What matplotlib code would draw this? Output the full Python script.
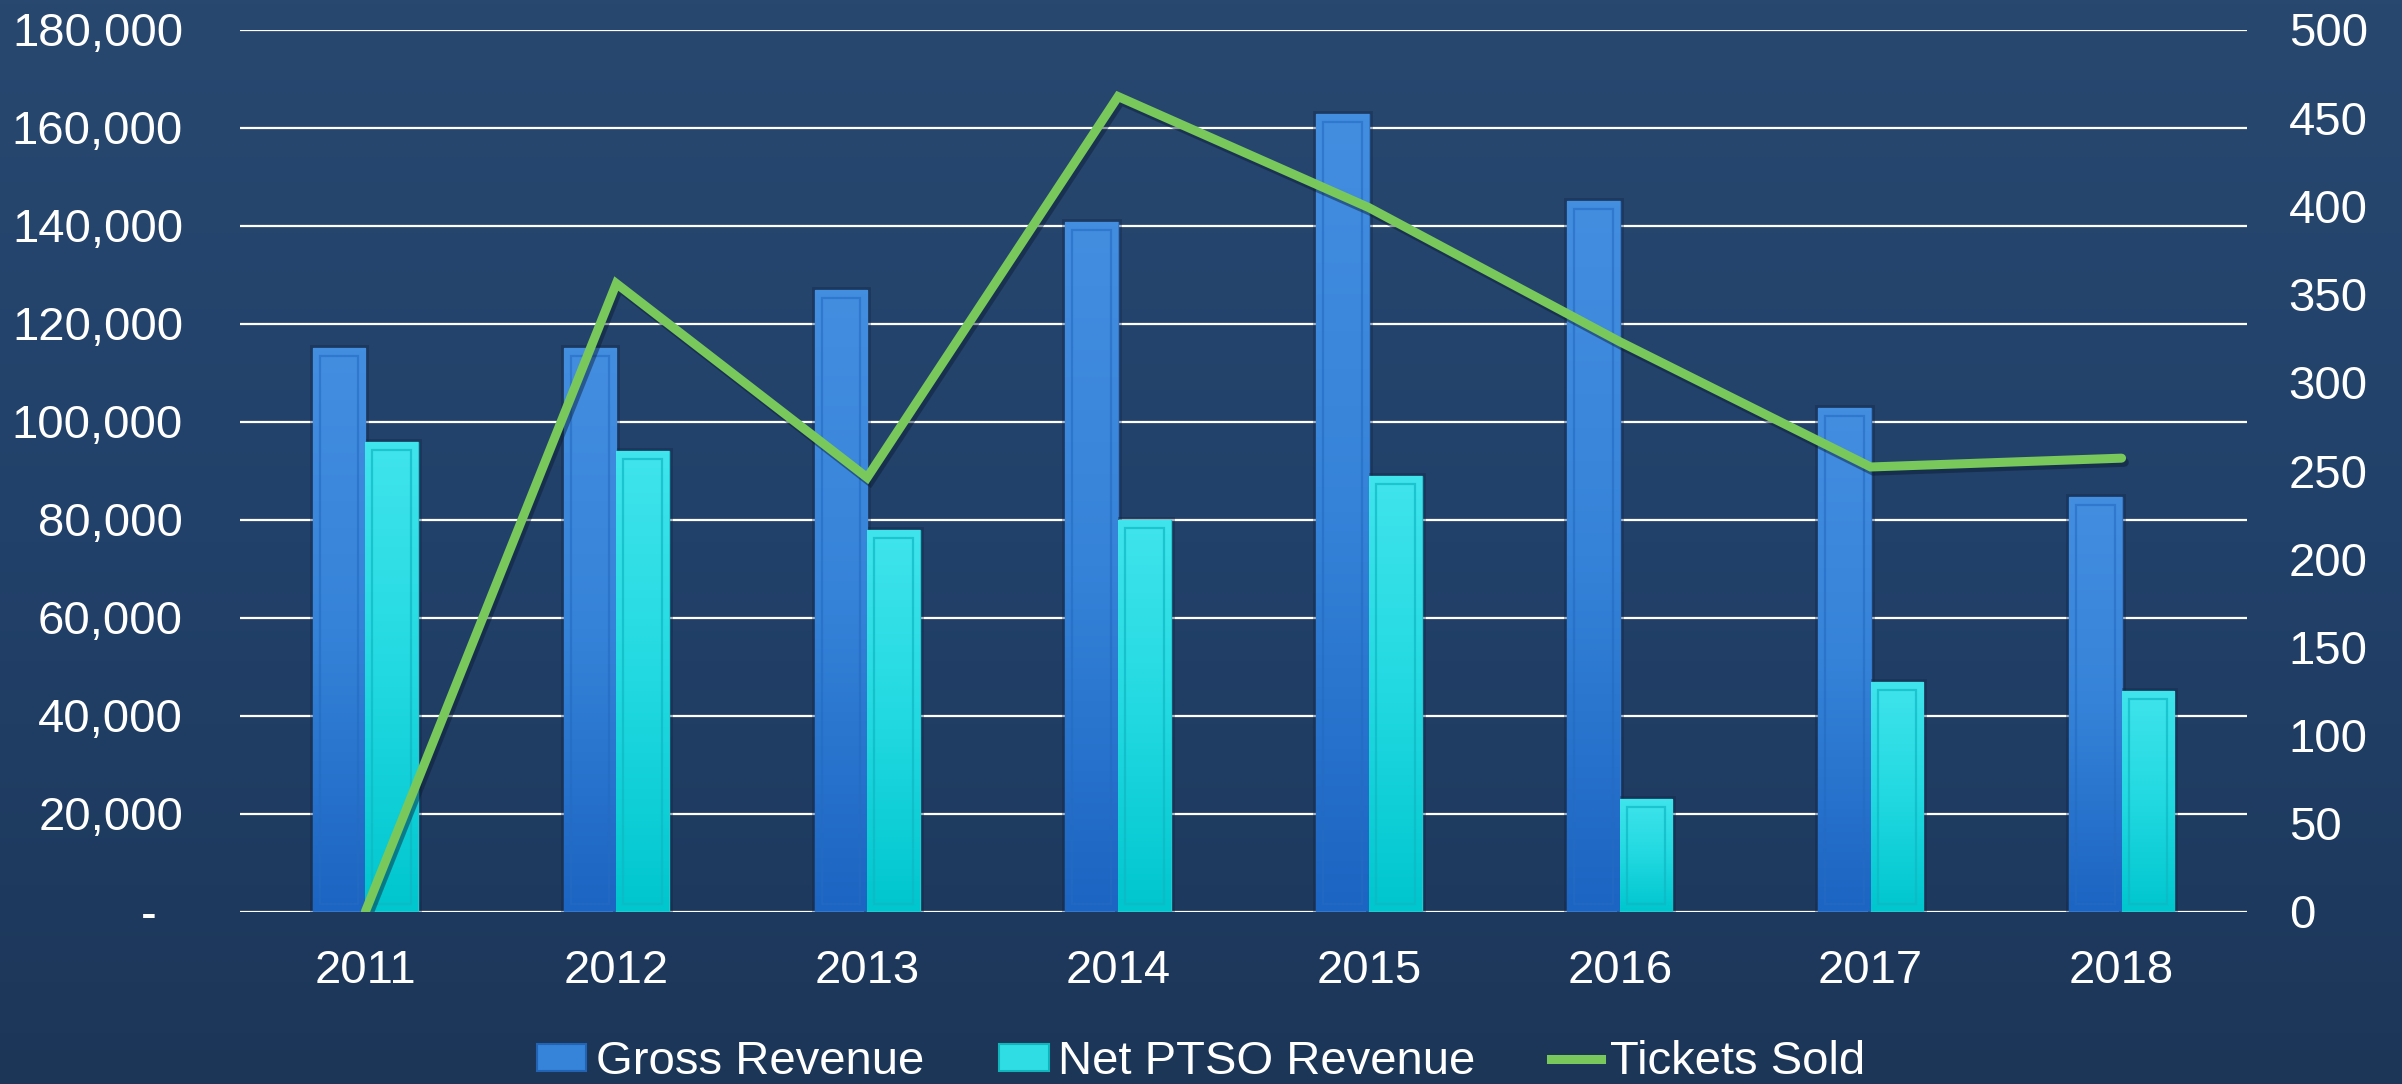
import numpy as np
import matplotlib
matplotlib.use("Agg")
import matplotlib.pyplot as plt
import matplotlib.patheffects as pe
from matplotlib.colors import LinearSegmentedColormap
from matplotlib.patches import Rectangle, Patch
from matplotlib.lines import Line2D
from matplotlib.ticker import FuncFormatter

plt.rcParams["font.family"] = ["Liberation Sans", "DejaVu Sans"]

# datos
years = ["2011", "2012", "2013", "2014", "2015", "2016", "2017", "2018"]
gross_revenue = [115000, 115000, 126800, 140800, 162800, 144900, 102800, 84600]
net_ptso_revenue = [95900, 94000, 77900, 80000, 88900, 22900, 46800, 44900]
tickets_sold = [0, 356, 246, 462, 399, 323, 252, 257]

left_ticks = list(range(0, 180001, 20000))
right_ticks = list(range(0, 501, 50))

W, H, DPI = 2402, 1084, 100
fig = plt.figure(figsize=(W / DPI, H / DPI), dpi=DPI)

# fondo azul con degradado
bg = fig.add_axes([0, 0, 1, 1], zorder=-10)
bg_cmap = LinearSegmentedColormap.from_list("bg", ["#1c3658", "#22416a", "#284870"])
bg.imshow(np.linspace(0, 1, 256).reshape(-1, 1), cmap=bg_cmap, aspect="auto",
          origin="lower", extent=[0, 1, 0, 1])
bg.set_axis_off()

ax = fig.add_axes([240 / W, 1 - 911.5 / H, (2247 - 240) / W, (911.5 - 29.5) / H])
ax.patch.set_alpha(0)
x = np.arange(len(years))
bw = 0.21
ax.set_xlim(-0.5, len(years) - 0.5)
ax.set_ylim(0, 180000)

ax.set_yticks(left_ticks)
ax.yaxis.set_major_formatter(FuncFormatter(lambda v, p: "" if v == 0 else f"{int(v):,}"))
ax.grid(axis="y", color="white", linewidth=1.6)
ax.set_axisbelow(True)
ax.set_xticks(x)
ax.set_xticklabels(years)
ax.tick_params(axis="both", length=0, colors="white", labelsize=34)
ax.tick_params(axis="y", pad=41)
ax.tick_params(axis="x", pad=27)
for s in ax.spines.values():
    s.set_visible(False)
ax.annotate("-", xy=(0, 0), xycoords=("axes fraction", "data"), xytext=(-91, 0),
            textcoords="offset pixels", ha="center", va="center_baseline",
            color="white", fontsize=34)

# pixeles -> datos para el bisel interior
px_x = 1 / (ax.transData.transform((1, 0))[0] - ax.transData.transform((0, 0))[0])
px_y = 1 / (ax.transData.transform((0, 1000))[1] - ax.transData.transform((0, 0))[1]) * 1000

gross_cmap = LinearSegmentedColormap.from_list("g", ["#1c65c2", "#3583d9", "#448ee0"])
net_cmap = LinearSegmentedColormap.from_list("n", ["#00c6ce", "#22d9e1", "#40e4ec"])
grad = np.linspace(0, 1, 128).reshape(-1, 1)


def draw_bars(offset, values, cmap, edge, inner):
    bars = ax.bar(x + offset, values, bw, color=edge, edgecolor=edge, linewidth=1, zorder=2)
    for b in bars:
        b.set_path_effects([pe.withStroke(linewidth=5, foreground=(0.06, 0.14, 0.26, 0.35))])
        x0, w, h = b.get_x(), b.get_width(), b.get_height()
        im = ax.imshow(grad, cmap=cmap, aspect="auto", origin="lower",
                       extent=[x0, x0 + w, 0, h], zorder=2.1)
        im.set_clip_path(b)
        ix, iy = 7 * px_x, 8 * px_y
        ax.add_patch(Rectangle((x0 + ix, iy), w - 2 * ix, h - 2 * iy, fill=False,
                               edgecolor=inner, linewidth=1.6, zorder=2.2))
    return bars


draw_bars(-bw / 2, gross_revenue, gross_cmap, "#3478cc", (0.14, 0.42, 0.76, 0.6))
draw_bars(bw / 2, net_ptso_revenue, net_cmap, "#22c9d1", (0.06, 0.72, 0.77, 0.7))
ax.set_xlim(-0.5, len(years) - 0.5)
ax.set_ylim(0, 180000)

ax2 = ax.twinx()
ax2.set_ylim(0, 500)
ax2.set_yticks(right_ticks)
ax2.tick_params(axis="y", length=0, colors="white", labelsize=34, pad=30)
for s in ax2.spines.values():
    s.set_visible(False)
line_color = "#78c85c"
ax2.plot(x, tickets_sold, color=line_color, linewidth=6.5, solid_capstyle="round",
         solid_joinstyle="miter", zorder=3,
         path_effects=[pe.SimpleLineShadow(offset=(2, -3), shadow_color="#0a1a30", alpha=0.45),
                       pe.Normal()])

handles = [
    Patch(facecolor="#3584da", edgecolor="#2363b4", linewidth=1.5),
    Patch(facecolor="#2fdde5", edgecolor="#12b4bc", linewidth=1.5),
    Line2D([0], [0], color=line_color, linewidth=6.5),
]
fig.legend(handles, ["Gross Revenue", "Net PTSO Revenue", "Tickets Sold"],
           loc="center", bbox_to_anchor=(0.5, 1 - 1062 / H), ncol=3, frameon=False,
           fontsize=34, labelcolor="white", handlelength=1.05, handleheight=0.5,
           handletextpad=0.2, columnspacing=1.6, borderpad=0)

fig.savefig("out.png", dpi=DPI)
